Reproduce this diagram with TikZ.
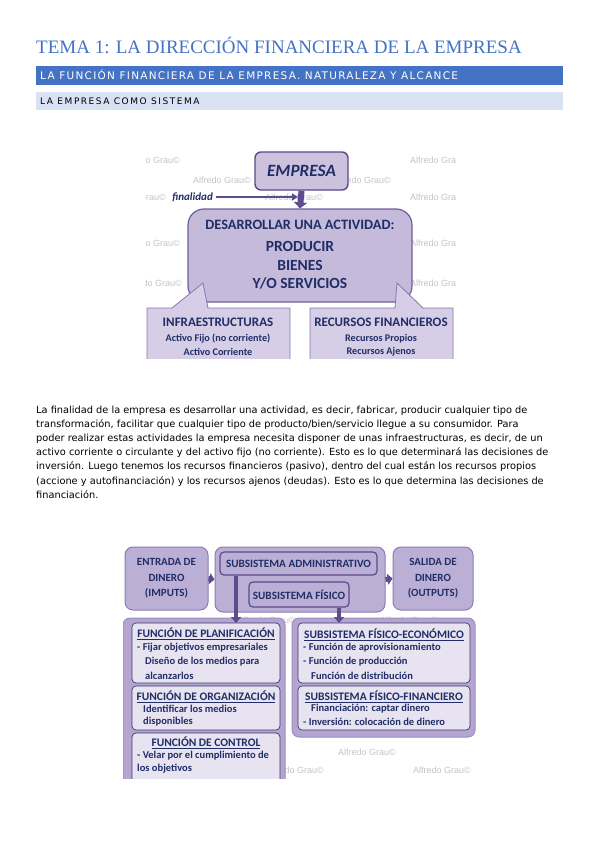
\documentclass[tikz,border=0pt]{standalone}
\usepackage{fontspec}
\setmainfont{DejaVu Sans}
\newfontfamily\titlefont{Liberation Serif}
\newfontfamily\barfonta[LetterSpace=12]{DejaVu Sans}
\newfontfamily\barfontb[LetterSpace=17]{DejaVu Sans}
\newfontfamily\calfont{Carlito}
\newfontfamily\wmfont{Liberation Sans}
\usetikzlibrary{arrows.meta}
\definecolor{titleblue}{HTML}{4472C4}
\definecolor{barlight}{HTML}{D9E2F3}
\definecolor{navy}{HTML}{1F2E66}
\definecolor{empfill}{HTML}{CCC2DE}
\definecolor{empdraw}{HTML}{5A4A8A}
\definecolor{bigfill}{HTML}{C6BADB}
\definecolor{bigdraw}{HTML}{6E5E9C}
\definecolor{calfill}{HTML}{D6CDE6}
\definecolor{caldraw}{HTML}{8878AE}
\definecolor{arrowc}{HTML}{5E4B8E}
\definecolor{colfill}{HTML}{B4A4CF}
\definecolor{coldraw}{HTML}{A090C4}
\definecolor{innfill}{HTML}{E8E3F0}
\definecolor{inndraw}{HTML}{3A3A6A}
\definecolor{sidefill}{HTML}{BCAFD6}
\definecolor{sidedraw}{HTML}{8C7BB5}
\definecolor{wmgray}{HTML}{C4C4C4}
\tikzset{
  wm/.style={font=\wmfont\fontsize{9}{9}\selectfont, text=wmgray, anchor=west, inner sep=0pt},
  dtext/.style={font=\calfont\bfseries, text=navy, inner sep=0pt},
  ptext/.style={font=\fontsize{9.8}{9.8}\selectfont, anchor=base west, inner sep=0pt},
  itemtext/.style={font=\calfont\bfseries\fontsize{10.5}{10.5}\selectfont, text=navy, anchor=west, inner sep=0pt},
  ttltext/.style={font=\calfont\bfseries\fontsize{11.5}{11.5}\selectfont, text=navy, inner sep=0pt},
  empbox/.style={draw=empdraw, line width=1.4pt, fill=empfill, rounded corners=6pt, inner sep=0pt},
  bigbox/.style={draw=bigdraw, line width=1.2pt, fill=bigfill, rounded corners=16pt, inner sep=0pt},
  sidebox/.style={draw=sidedraw, line width=1pt, fill=sidefill, rounded corners=8pt, inner sep=0pt, align=center,
     font=\calfont\bfseries\fontsize{11}{15.5}\selectfont, text=navy},
  colbox/.style={draw=coldraw, line width=1pt, fill=colfill, rounded corners=7pt},
  innbox/.style={draw=inndraw, line width=0.7pt, fill=innfill, rounded corners=4pt, inner sep=0pt},
  subbox/.style={draw=empdraw, line width=1.2pt, fill=sidefill, rounded corners=4pt, inner sep=0pt,
     font=\calfont\bfseries\fontsize{11.2}{11.2}\selectfont, text=navy},
  fatarrow/.style={draw=arrowc, line width=6pt, -{Triangle[width=13pt,length=6pt]}},
  finarrow/.style={draw=arrowc, line width=2.5pt, -{Triangle[width=7pt,length=6pt]}},
  harrow/.style={draw=arrowc, line width=5pt, -{Triangle[width=11pt,length=5pt]}},
  varrow/.style={draw=arrowc, line width=4pt, -{Triangle[width=10pt,length=6pt]}},
}
\begin{document}
\begin{tikzpicture}[x=1pt,y=-1pt]
\useasboundingbox[fill=white] (0,0) rectangle (599,848);

% ---------- headings ----------
\node[font=\titlefont\fontsize{19}{19}\selectfont, text=titleblue, anchor=base west, inner sep=0pt] (title) at (36,54)
  {TEMA 1: LA DIRECCIÓN FINANCIERA DE LA EMPRESA};
\fill[titleblue] (36,66) rectangle (563,85);
\node[font=\barfonta\fontsize{10.5}{10.5}\selectfont, text=white, anchor=base west, inner sep=0pt] (bar1) at (40,79.5)
  {LA FUNCIÓN FINANCIERA DE LA EMPRESA. NATURALEZA Y ALCANCE};
\fill[barlight] (36,92) rectangle (563,110);
\node[font=\barfontb\fontsize{9}{9}\selectfont, text=black, anchor=base west, inner sep=0pt] (bar2) at (40,105)
  {LA EMPRESA COMO SISTEMA};

% ---------- top diagram ----------
\begin{scope}
\clip (145,145) rectangle (455,358);
\foreach \x/\y in {122/160,265/160,410/160,193/180,333/180,108/197,265/197,410/197,122/243,410/243,124/283,410/283}
  \node[wm] at (\x,\y) {Alfredo Grau©};
\node[empbox, minimum width=93pt, minimum height=38pt] (emp) at (301.5,171)
  {\calfont\bfseries\itshape\fontsize{17.2}{17.2}\selectfont\textcolor{navy}{EMPRESA}};
\node[bigbox, minimum width=224pt, minimum height=93pt] (big) at (300,255.5) {};
\node[dtext, font=\calfont\bfseries\fontsize{14.3}{14.3}\selectfont] (b1) at (300,225) {DESARROLLAR UNA ACTIVIDAD:};
\node[dtext, font=\calfont\bfseries\fontsize{15.5}{15.5}\selectfont] (b2) at (300,246) {PRODUCIR};
\node[dtext, font=\calfont\bfseries\fontsize{15.5}{15.5}\selectfont] (b3) at (300,265) {BIENES};
\node[dtext, font=\calfont\bfseries\fontsize{15.5}{15.5}\selectfont] (b4) at (300,283) {Y/O SERVICIOS};
\draw[fatarrow] (emp.south) -- (big.north);
\node[dtext, font=\calfont\bfseries\itshape\fontsize{11}{11}\selectfont, anchor=east] (fin) at (213,197) {finalidad};
\coordinate (finend) at (298,197);
\draw[finarrow] (fin.east) ++(3,0) -- (finend);
% callouts
\draw[draw=caldraw, line width=0.8pt, fill=calfill]
  (147,308) -- (172,308) -- (203,283) -- (208,308) -- (290,308) -- (290,370) -- (147,370) -- cycle;
\draw[draw=caldraw, line width=0.8pt, fill=calfill]
  (310,308) -- (395,308) -- (397,283) -- (423,308) -- (453,308) -- (453,370) -- (310,370) -- cycle;
\node[dtext, font=\calfont\bfseries\fontsize{13}{13}\selectfont] (inf) at (218,322) {INFRAESTRUCTURAS};
\node[dtext, font=\calfont\bfseries\fontsize{10.2}{10.2}\selectfont] (inf1) at (218,339) {Activo Fijo (no corriente)};
\node[dtext, font=\calfont\bfseries\fontsize{10.2}{10.2}\selectfont] (inf2) at (218,352) {Activo Corriente};
\node[dtext, font=\calfont\bfseries\fontsize{13}{13}\selectfont] (rec) at (381,322) {RECURSOS FINANCIEROS};
\node[dtext, font=\calfont\bfseries\fontsize{10.2}{10.2}\selectfont] (rec1) at (381,339) {Recursos Propios};
\node[dtext, font=\calfont\bfseries\fontsize{10.2}{10.2}\selectfont] (rec2) at (381,352) {Recursos Ajenos};
\end{scope}

% ---------- paragraph ----------
\node[ptext] (p1) at (36,413) {La finalidad de la empresa es desarrollar una actividad, es decir, fabricar, producir cualquier tipo de};
\node[ptext] (p2) at (36,427.2) {transformación, facilitar que cualquier tipo de producto/bien/servicio llegue a su consumidor. Para};
\node[ptext] (p3) at (36,441.4) {poder realizar estas actividades la empresa necesita disponer de unas infraestructuras, es decir, de un};
\node[ptext] (p4) at (36,455.6) {activo corriente o circulante y del activo fijo (no corriente). Esto es lo que determinará las decisiones de};
\node[ptext] (p5) at (36,469.8) {inversión. Luego tenemos los recursos financieros (pasivo), dentro del cual están los recursos propios};
\node[ptext] (p6) at (36,484) {(accione y autofinanciación) y los recursos ajenos (deudas). Esto es lo que determina las decisiones de};
\node[ptext] (p7) at (36,498.2) {financiación.};

% ---------- bottom diagram ----------
\begin{scope}
\clip (123,545) rectangle (478,778);
\foreach \x/\y in {338/752,413/770,266/770,238/620,380/620}
  \node[wm] at (\x,\y) {Alfredo Grau©};
\node[sidebox, minimum width=83pt, minimum height=63pt] (ent) at (166.5,578.5) {ENTRADA DE\\DINERO\\(IMPUTS)};
\node[sidebox, minimum width=170pt, minimum height=65pt] (mid) at (300,579.5) {};
\node[subbox, minimum width=157pt, minimum height=23pt] (adm) at (298.5,563.5) {SUBSISTEMA ADMINISTRATIVO};
\node[subbox, minimum width=100pt, minimum height=25pt] (fis) at (299,594.5) {SUBSISTEMA FÍSICO};
\node[sidebox, minimum width=80pt, minimum height=63pt] (sal) at (433,578.5) {SALIDA DE\\DINERO\\(OUTPUTS)};
\draw[harrow] (ent.east) -- (mid.west);
\draw[harrow] (mid.east) -- (sal.west);
% columns
\draw[colbox] (123,618) rectangle (285,800);
\draw[colbox] (292,618) rectangle (475,737);
\node[innbox, minimum width=148pt, minimum height=60pt] (plan) at (206,653) {};
\node[innbox, minimum width=148pt, minimum height=44pt] (org) at (206,708) {};
\node[innbox, minimum width=148pt, minimum height=60pt] (ctrl) at (206,763) {};
\node[innbox, minimum width=172pt, minimum height=60pt] (eco) at (384,653) {};
\node[innbox, minimum width=172pt, minimum height=44pt] (finb) at (384,708) {};
\coordinate (a1) at (236,623);
\coordinate (a2) at (339,623);
\draw[varrow] (a1 |- adm.south) -- (a1);
\draw[varrow] (a2 |- fis.south) -- (a2);
% planificacion
\node[ttltext] (plant) at (206,634) {\underline{FUNCIÓN DE PLANIFICACIÓN}};
\node[itemtext] (plan1) at (137,648) {- Fijar objetivos empresariales};
\node[itemtext] (plan2) at (145,662) {Diseño de los medios para};
\node[itemtext] (plan3) at (145,676) {alcanzarlos};
% organizacion
\node[ttltext] (orgt) at (206,697) {\underline{FUNCIÓN DE ORGANIZACIÓN}};
\node[itemtext] (org1) at (143,708.5) {Identificar los medios};
\node[itemtext] (org2) at (143,722) {disponibles};
% control
\node[ttltext] (ctrlt) at (206,743) {\underline{FUNCIÓN DE CONTROL}};
\node[itemtext] (ctrl1) at (137,756) {- Velar por el cumplimiento de};
\node[itemtext] (ctrl2) at (137,769) {los objetivos};
% economico
\node[ttltext] (ecot) at (384,635) {\underline{SUBSISTEMA FÍSICO-ECONÓMICO}};
\node[itemtext] (eco1) at (303,648) {- Función de aprovisionamiento};
\node[itemtext] (eco2) at (303,662) {- Función de producción};
\node[itemtext] (eco3) at (311,676) {Función de distribución};
% financiero
\node[ttltext] (finbt) at (384,696.5) {\underline{SUBSISTEMA FÍSICO-FINANCIERO}};
\node[itemtext] (finb1) at (311,708.5) {Financiación: captar dinero};
\node[itemtext] (finb2) at (303,722) {- Inversión: colocación de dinero};
\end{scope}
\end{tikzpicture}
\end{document}
